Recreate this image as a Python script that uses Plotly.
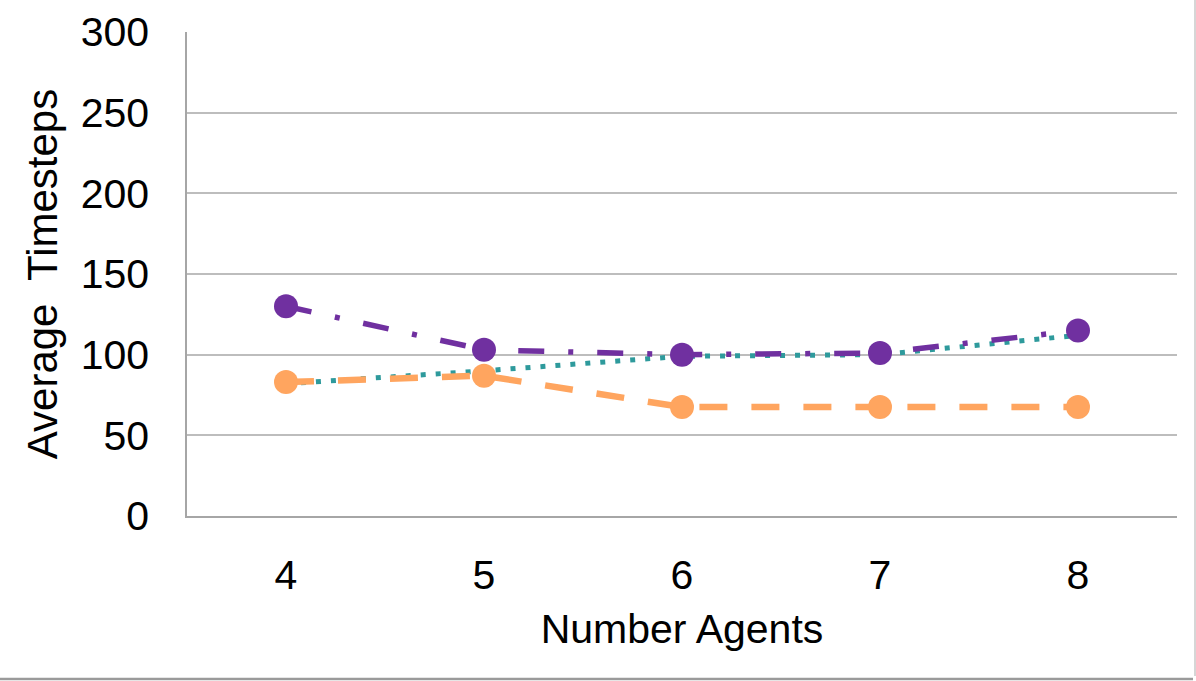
import plotly.graph_objects as go

categories = ["4", "5", "6", "7", "8"]
series_purple = [130, 103, 100, 101, 115]
series_orange = [83, 87, 67.5, 67.5, 67.5]
series_teal = [82, 90, 99, 100, 112]
y_ticks = [0, 50, 100, 150, 200, 250, 300]

W, H = 1196, 681
L, R, T, B = 187, 19, 32, 165
pw, ph = W - L - R, H - T - B

fig = go.Figure()
fig.add_trace(go.Scatter(
    x=categories, y=series_teal, mode="lines",
    line=dict(color="#2E9A9C", width=5, dash="5px,10px"),
    showlegend=False))
fig.add_trace(go.Scatter(
    x=categories, y=series_orange, mode="lines+markers",
    line=dict(color="#FFA55F", width=6.5, dash="28px,24px"),
    marker=dict(color="#FFA55F", size=24),
    showlegend=False))
fig.add_trace(go.Scatter(
    x=categories, y=series_purple, mode="lines+markers",
    line=dict(color="#7030A0", width=5.5, dash="26px,24px,5px,24px"),
    marker=dict(color="#7030A0", size=24),
    showlegend=False))

font = "Liberation Sans, Arial, sans-serif"
fig.update_layout(
    width=W, height=H,
    margin=dict(l=L, r=R, t=T, b=B, autoexpand=False),
    paper_bgcolor="white", plot_bgcolor="white",
    font=dict(family=font, color="black", size=41),
    xaxis=dict(
        type="category", range=[-0.5, 4.5],
        showgrid=False, showline=True, linecolor="#a6a6a6", linewidth=1.5,
        ticks="", ticklabelstandoff=22,
        tickfont=dict(size=41),
        title=dict(text="Number Agents", font=dict(size=41), standoff=17),
        automargin=False),
    yaxis=dict(
        range=[0, 300], tickvals=y_ticks, ticktext=[str(v) for v in y_ticks],
        showgrid=True, gridcolor="#bdbdbd", gridwidth=1.5,
        showline=True, linecolor="#a6a6a6", linewidth=1.5,
        zeroline=False, ticks="", ticklabelstandoff=28,
        tickfont=dict(size=41),
        title=dict(text="Average  Timesteps", font=dict(size=42), standoff=10),
        automargin=False),
    shapes=[
        dict(type="line", xref="paper", yref="paper",
             x0=(0 - L) / pw, x1=(1193 - L) / pw,
             y0=-(679 - (H - B)) / ph, y1=-(679 - (H - B)) / ph,
             line=dict(color="#9a9a9a", width=2.5)),
        dict(type="line", xref="paper", yref="paper",
             x0=(1195 - L) / pw, x1=(1195 - L) / pw,
             y0=-(676 - (H - B)) / ph, y1=((H - B) - 0) / ph,
             line=dict(color="#c8c8c8", width=1.5)),
    ],
)

fig.write_html("out.html", config={"displayModeBar": False},
               post_script="document.body.style.margin='0';")
